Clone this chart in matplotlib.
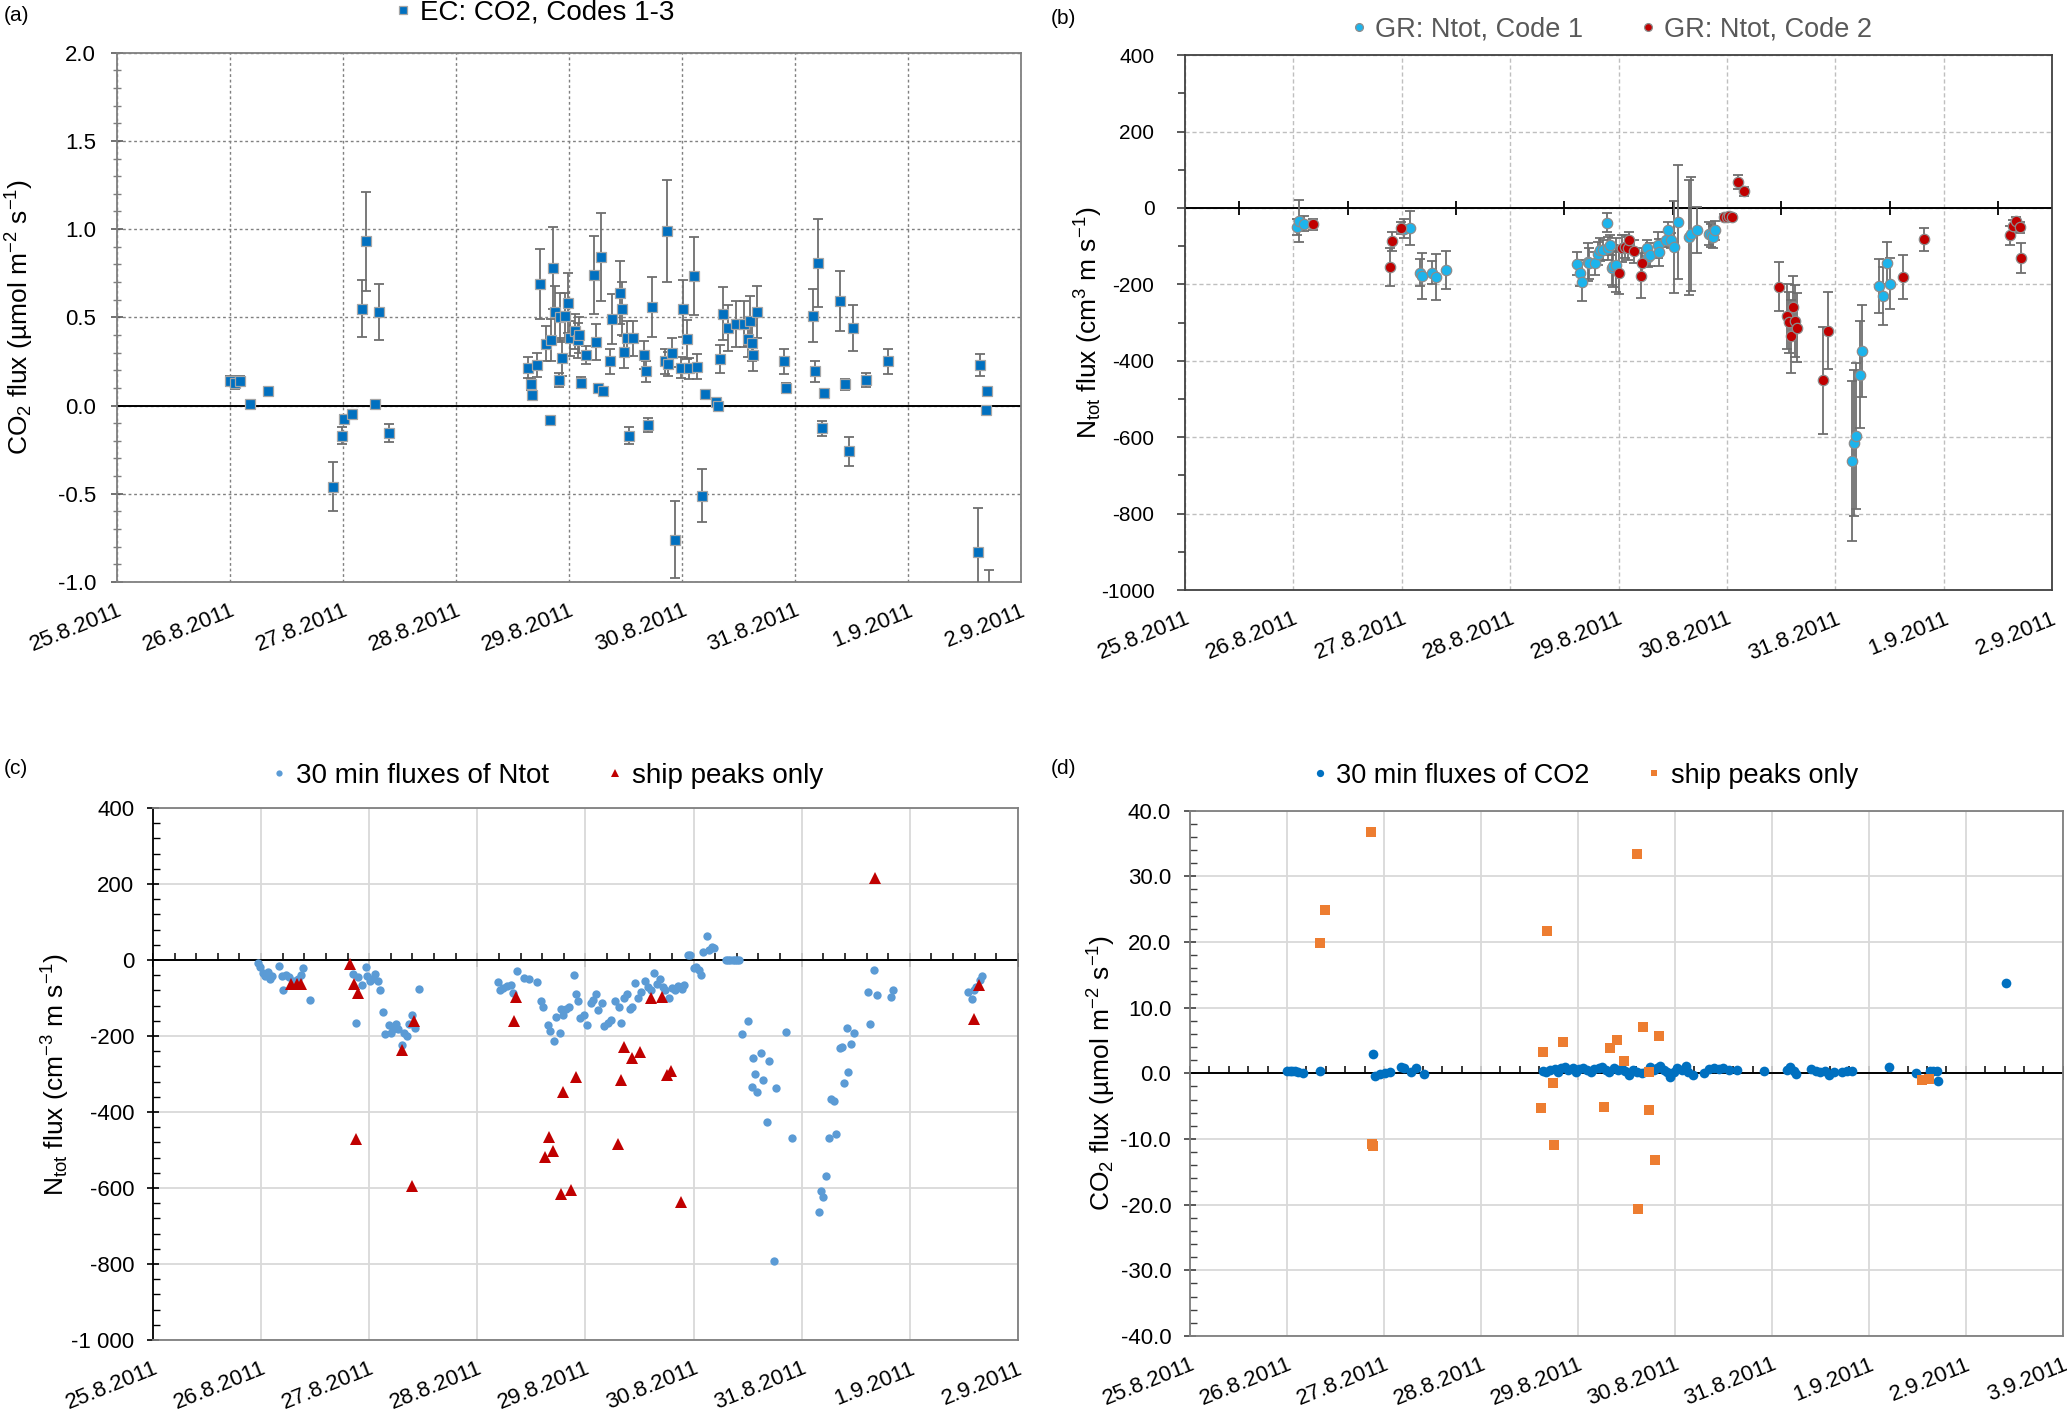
import numpy as np
import matplotlib.pyplot as plt
from matplotlib.ticker import MultipleLocator

plt.rcParams['font.family'] = ['Liberation Sans', 'DejaVu Sans']
plt.rcParams['mathtext.fontset'] = 'custom'
plt.rcParams['mathtext.rm'] = 'Liberation Sans'
plt.rcParams['mathtext.it'] = 'Liberation Sans:italic'
plt.rcParams['mathtext.default'] = 'regular'

# x values: days since 25.8.2011 00:00
date_labels = ['25.8.2011', '26.8.2011', '27.8.2011', '28.8.2011', '29.8.2011',
               '30.8.2011', '31.8.2011', '1.9.2011', '2.9.2011', '3.9.2011']

# (a) EC CO2 flux, codes 1-3
a_day = [1.00, 1.04, 1.09, 1.18, 1.34, 1.91, 1.99, 2.01, 2.08, 2.17, 2.20, 2.28, 2.32, 2.41,
         3.64, 3.66, 3.67, 3.72, 3.74, 3.80, 3.83, 3.84, 3.86, 3.88, 3.91, 3.92, 3.94, 3.96,
         3.99, 4.01, 4.05, 4.08, 4.09, 4.11, 4.15, 4.22, 4.24, 4.26, 4.28, 4.30, 4.36, 4.38,
         4.45, 4.47, 4.49, 4.51, 4.53, 4.57, 4.66, 4.68, 4.70, 4.73, 4.85, 4.87, 4.88, 4.91,
         4.94, 4.99, 5.01, 5.04, 5.06, 5.11, 5.13, 5.18, 5.20, 5.30, 5.32, 5.34, 5.36, 5.41,
         5.48, 5.55, 5.58, 5.60, 5.62, 5.63, 5.66, 5.90, 5.92, 6.16, 6.18, 6.20, 6.24, 6.26,
         6.40, 6.44, 6.48, 6.51, 6.63, 6.82, 7.62, 7.64, 7.69, 7.70, 7.72]
a_flux = [0.14, 0.125, 0.14, 0.007, 0.08, -0.46, -0.17, -0.075, -0.05, 0.55, 0.93, 0.007, 0.53, -0.155,
          0.215, 0.12, 0.058, 0.23, 0.69, 0.35, -0.08, 0.37, 0.78, 0.53, 0.145, 0.50, 0.27, 0.51,
          0.58, 0.38, 0.42, 0.37, 0.40, 0.13, 0.285, 0.74, 0.36, 0.10, 0.84, 0.085, 0.25, 0.49,
          0.64, 0.55, 0.305, 0.38, -0.17, 0.38, 0.285, 0.195, -0.11, 0.56, 0.25, 0.99, 0.235, 0.30,
          -0.76, 0.215, 0.55, 0.375, 0.21, 0.735, 0.22, -0.51, 0.065, 0.02, 0.0, 0.265, 0.52, 0.44,
          0.46, 0.46, 0.375, 0.48, 0.355, 0.285, 0.53, 0.25, 0.10, 0.51, 0.195, 0.81, -0.13, 0.07,
          0.595, 0.12, -0.26, 0.44, 0.145, 0.25, -0.83, 0.23, -0.025, 0.08, -1.10]
a_err = [0.03, 0.03, 0.03, 0.01, 0.02, 0.14, 0.05, 0.02, 0.02, 0.16, 0.28, 0.01, 0.16, 0.05,
         0.06, 0.03, 0.015, 0.07, 0.20, 0.10, 0.01, 0.12, 0.23, 0.15, 0.04, 0.14, 0.10, 0.13,
         0.17, 0.10, 0.10, 0.10, 0.10, 0.03, 0.05, 0.22, 0.10, 0.02, 0.25, 0.02, 0.07, 0.14,
         0.18, 0.15, 0.09, 0.10, 0.05, 0.10, 0.08, 0.06, 0.04, 0.17, 0.07, 0.29, 0.07, 0.08,
         0.22, 0.06, 0.16, 0.11, 0.06, 0.22, 0.07, 0.15, 0.01, 0.01, 0.01, 0.08, 0.15, 0.13,
         0.13, 0.13, 0.10, 0.14, 0.10, 0.09, 0.15, 0.07, 0.03, 0.15, 0.06, 0.25, 0.04, 0.01,
         0.17, 0.03, 0.08, 0.13, 0.04, 0.07, 0.25, 0.06, 0.01, 0.02, 0.17]

# (b) gradient Ntot flux, code 1 and code 2
b1_day = [1.03, 1.05, 1.10, 2.02, 2.08, 2.17, 2.19, 2.28, 2.32, 2.41,
          3.62, 3.64, 3.66, 3.72, 3.73, 3.78, 3.81, 3.83, 3.86, 3.89, 3.90, 3.92, 3.94, 3.95, 3.98,
          4.26, 4.27, 4.29, 4.36, 4.37, 4.44, 4.46, 4.48, 4.51, 4.55, 4.65, 4.67, 4.72,
          4.83, 4.85, 4.87, 4.89, 6.15, 6.17, 6.19, 6.23, 6.25, 6.40, 6.44, 6.48, 6.50]
b1_flux = [-50, -34, -41, -55, -52, -169, -178, -169, -181, -163,
           -146, -170, -194, -142, -145, -145, -120, -110, -110, -39, -105, -97, -157, -152, -149,
           -105, -129, -123, -97, -116, -83, -57, -85, -103, -37, -77, -68, -57,
           -67, -72, -76, -59, -662, -615, -597, -437, -375, -204, -230, -144, -198]
b1_err = [20, 55, 20, 25, 45, 35, 60, 30, 60, 50,
          30, 35, 50, 50, 40, 30, 30, 30, 25, 25, 30, 25, 45, 55, 70,
          20, 25, 30, 35, 35, 20, 20, 20, 120, 150, 150, 150, 60,
          30, 30, 28, 25, 210, 190, 190, 140, 120, 70, 76, 55, 66]
b2_day = [1.18, 1.89, 1.91, 1.99, 4.00, 4.03, 4.06, 4.09, 4.10, 4.14, 4.21, 4.22,
          4.97, 5.00, 5.02, 5.05, 5.10, 5.16, 5.48, 5.55, 5.57, 5.59, 5.61, 5.63, 5.65,
          5.89, 5.93, 6.62, 6.82, 7.61, 7.64, 7.67, 7.70, 7.71]
b2_flux = [-43, -154, -87, -53, -171, -106, -102, -106, -84, -113, -177, -144,
           -24, -23, -20, -24, 68, 43, -206, -283, -299, -336, -258, -296, -313,
           -451, -321, -181, -82, -72, -47, -35, -51, -131]
b2_err = [15, 50, 25, 15, 55, 35, 30, 30, 20, 30, 60, 40,
          8, 8, 8, 8, 18, 12, 65, 85, 80, 95, 80, 95, 90,
          140, 100, 58, 30, 25, 15, 12, 15, 40]

# (c) 30 min Ntot fluxes and ship peaks
c_day = [0.97, 0.99, 1.02, 1.04, 1.06, 1.08, 1.10, 1.17, 1.19, 1.20, 1.23, 1.26, 1.30, 1.34, 1.37,
         1.39, 1.45, 1.85, 1.88, 1.90, 1.93, 1.97, 1.98, 2.01, 2.03, 2.05, 2.08, 2.10, 2.13, 2.15,
         2.18, 2.20, 2.22, 2.25, 2.27, 2.30, 2.32, 2.35, 2.37, 2.40, 2.42, 2.46,
         3.19, 3.21, 3.24, 3.27, 3.31, 3.33, 3.37, 3.43, 3.48, 3.55, 3.59, 3.61, 3.65, 3.67, 3.71,
         3.73, 3.76, 3.77, 3.79, 3.82, 3.85, 3.89, 3.91, 3.93, 3.95, 3.99, 4.01, 4.05, 4.07, 4.10,
         4.12, 4.15, 4.17, 4.21, 4.24, 4.27, 4.31, 4.33, 4.36, 4.38, 4.41, 4.43, 4.46, 4.49, 4.51,
         4.55, 4.58, 4.61, 4.63, 4.66, 4.69, 4.72, 4.74, 4.77, 4.80, 4.83, 4.86, 4.89, 4.91,
         4.95, 4.97, 5.00, 5.02, 5.05, 5.07, 5.09, 5.12, 5.14, 5.17, 5.19,
         5.30, 5.32, 5.34, 5.36, 5.38, 5.40, 5.42,
         5.45, 5.50, 5.54, 5.55, 5.57, 5.59, 5.62, 5.64, 5.68, 5.70, 5.74, 5.76, 5.85, 5.91,
         6.16, 6.18, 6.20, 6.22, 6.25, 6.27, 6.30, 6.32, 6.35, 6.37, 6.39, 6.42, 6.43, 6.46, 6.48,
         6.61, 6.63, 6.67, 6.70, 6.83, 6.84, 7.54, 7.57, 7.59, 7.61, 7.65, 7.67]
c_flux = [-8, -18, -35, -43, -32, -51, -42, -15, -42, -78, -39, -44, -56, -50, -39,
          -22, -105, -37, -165, -44, -67, -19, -43, -56, -49, -36, -56, -78, -137, -196,
          -171, -191, -182, -169, -182, -225, -191, -200, -169, -146, -178, -76,
          -58, -78, -73, -69, -65, -87, -29, -48, -50, -59, -109, -124, -171, -188, -214,
          -150, -191, -128, -146, -129, -124, -40, -90, -107, -154, -146, -171, -112, -105, -90,
          -131, -114, -174, -167, -157, -107, -124, -167, -99, -90, -129, -124, -61, -101, -85,
          -56, -72, -80, -35, -62, -50, -72, -78, -101, -73, -78, -69, -76, -67,
          12, 12, -22, -19, -27, -39, 22, 62, 26, 35, 32,
          0, 0, 0, 0, 0, 0, 0,
          -195, -161, -334, -259, -299, -348, -246, -315, -427, -265, -792, -337, -189, -468,
          -664, -607, -624, -568, -469, -365, -370, -458, -232, -228, -324, -178, -295, -221, -191,
          -85, -169, -27, -92, -97, -78, -85, -104, -78, -70, -52, -41]
c_peak_day = [1.28, 1.33, 1.37, 1.82, 1.86, 1.90, 1.88, 2.30, 2.40, 2.41, 3.36, 3.34,
              3.66, 3.63, 3.70, 3.77, 3.87, 3.79, 3.91, 4.30, 4.33, 4.36, 4.43, 4.50,
              4.61, 4.71, 4.75, 4.79, 4.88, 6.68, 7.59, 7.64]
c_peak_flux = [-62, -62, -62, -11, -62, -86, -471, -236, -594, -160, -97, -160,
               -466, -518, -503, -616, -605, -348, -308, -484, -317, -228, -259, -242,
               -99, -97, -302, -293, -637, 216, -156, -65]

# (d) 30 min CO2 fluxes and ship peaks
d_day = [1.00, 1.03, 1.05, 1.08, 1.11, 1.17, 1.34, 1.89, 1.91, 1.96, 2.01, 2.06, 2.18, 2.21,
         2.28, 2.33, 2.41, 3.64, 3.67, 3.71, 3.76, 3.79, 3.83, 3.87, 3.90, 3.95, 3.98, 4.01,
         4.05, 4.09, 4.13, 4.17, 4.22, 4.25, 4.29, 4.32, 4.37, 4.41, 4.45, 4.49, 4.53, 4.57,
         4.61, 4.66, 4.71, 4.74, 4.78, 4.82, 4.85, 4.89, 4.92, 4.95, 4.99, 5.02, 5.07, 5.11,
         5.14, 5.19, 5.30, 5.35, 5.40, 5.45, 5.50, 5.56, 5.64, 5.92, 6.16, 6.19, 6.23, 6.25,
         6.40, 6.45, 6.50, 6.55, 6.59, 6.64, 6.72, 6.77, 6.83, 7.21, 7.49, 7.63, 7.66, 7.70,
         7.71, 8.41]
d_flux = [0.35, 0.35, 0.35, 0.35, 0.25, 0.1, 0.35, 3.0, -0.36, -0.1, 0.1, 0.15, 1.0, 0.76,
          0.25, 0.76, -0.05, 0.36, 0.15, 0.51, 0.61, 0.25, 0.76, 1.02, 0.51, 0.76, 0.25, 0.61,
          0.76, 0.51, 0.25, 0.61, 0.76, 1.02, 0.51, 0.25, 0.76, 0.51, 0.61, 0.41, -0.25, 0.51,
          0.25, 0.1, 0.41, 1.02, 0.51, 0.76, 1.12, 0.51, 0.25, -0.61, 0.25, 0.76, 0.51, 1.12,
          0.25, -0.25, 0.1, 0.61, 0.76, 0.61, 0.76, 0.5, 0.5, 0.3, 0.5, 0.9, 0.4, -0.1,
          0.7, 0.4, 0.15, 0.4, -0.25, 0.15, 0.15, 0.3, 0.4, 1.0, 0.05, 0.4, 0.4, 0.3,
          -1.25, 13.8]
d_peak_day = [1.34, 1.39, 1.87, 1.88, 1.89, 3.62, 3.64, 3.68, 3.74, 3.75, 3.85, 4.27, 4.33,
              4.40, 4.47, 4.61, 4.62, 4.67, 4.73, 4.73, 4.79, 4.84, 7.55, 7.62]
d_peak_flux = [19.9, 24.9, 36.8, -10.7, -11.0, -5.3, 3.3, 21.7, -1.5, -10.9, 4.7, -5.1, 3.8,
               5.0, 1.8, 33.4, -20.6, 7.1, -5.6, 0.2, -13.2, 5.7, -1.1, -0.85]

fig = plt.figure(figsize=(20.67, 14.16), dpi=100)


def setup_axes(rect, ndays, ylim, ystep, yminor, ylabels, ylabel, label_x, tick_size=16):
    ax = fig.add_axes(rect)
    ax.set_xlim(0, ndays)
    ax.set_ylim(*ylim)
    ax.set_xticks(range(ndays + 1))
    ax.set_xticklabels(date_labels[:ndays + 1], rotation=22, ha='right', va='top',
                       rotation_mode='anchor', fontsize=16)
    ax.tick_params(axis='x', length=0, pad=13)
    yt = np.arange(ylim[0], ylim[1] + ystep / 2, ystep)
    ax.set_yticks(yt)
    ax.set_yticklabels(ylabels, fontsize=tick_size)
    ax.yaxis.set_minor_locator(MultipleLocator(yminor))
    ax.set_ylabel(ylabel, fontsize=19)
    ax.yaxis.set_label_coords(label_x, 0.5)
    ax.set_axisbelow(True)
    for s in ax.spines.values():
        s.set_color('#7F7F7F')
        s.set_linewidth(1.3)
    return ax


def zero_line(ax, major, minor):
    # black line at y = 0 carrying its own x ticks
    ax.axhline(0, color='black', linewidth=1.4, zorder=2)
    ymin, ymax = ax.get_ylim()
    pos = (0 - ymin) / (ymax - ymin)
    zax = ax.secondary_xaxis(pos)
    for s in zax.spines.values():
        s.set_visible(False)
    zax.set_xticks(major)
    zax.set_xticks(minor, minor=True)
    zax.tick_params(which='major', direction='inout', length=10, width=1.3, color='black',
                    labeltop=False, labelbottom=False)
    zax.tick_params(which='minor', direction='out', length=5, width=1.1, color='black',
                    labeltop=False, labelbottom=False)
    return zax


# ---- (a)
ax_a = setup_axes([0.0566, 0.589, 0.4374, 0.3738], 8, (-1.0, 2.0), 0.5, 0.1,
                  ['-1.0', '-0.5', '0.0', '0.5', '1.0', '1.5', '2.0'],
                  'CO$_2$ flux (µmol m$^{-2}$ s$^{-1}$)', -0.09)
ax_a.grid(True, color='#808080', linestyle=(0, (2, 2)), linewidth=1.0)
ax_a.tick_params(axis='y', which='major', direction='inout', length=8, width=1.2,
                 color='#595959', pad=11)
ax_a.tick_params(axis='y', which='minor', direction='inout', length=6, width=1.0, color='#7F7F7F')
ax_a.axhline(0, color='black', linewidth=1.4, zorder=2)
ax_a.errorbar(a_day, a_flux, yerr=a_err, fmt='none', ecolor='#6E6E6E', elinewidth=1.3,
              capsize=3.5, capthick=1.3, zorder=3)
ax_a.plot(a_day, a_flux, 's', ms=6.5, mfc='#0070C0', mec='#A6A6A6', mew=0.9, zorder=4,
          label='EC: CO2, Codes 1-3')
ax_a.legend(loc='center', bbox_to_anchor=(0.258, 0.991), bbox_transform=fig.transFigure,
            frameon=False, fontsize=20, handletextpad=0.2, markerscale=0.8, handlelength=0.8)

# ---- (b)
ax_b = setup_axes([0.5733, 0.5833, 0.4195, 0.3778], 8, (-1000, 400), 200, 100,
                  ['-1000', '-800', '-600', '-400', '-200', '0', '200', '400'],
                  'N$_{tot}$ flux (cm$^{3}$ m s$^{-1}$)', -0.092, tick_size=15)
ax_b.grid(True, color='#BFBFBF', linestyle=(0, (3, 2)), linewidth=1.0)
ax_b.tick_params(axis='y', which='both', direction='out', length=6, width=1.2,
                 color='#404040', pad=16)
ax_b.tick_params(axis='y', which='minor', length=5)
for s in ax_b.spines.values():
    s.set_color('#404040')
zero_line(ax_b, np.arange(0.5, 8, 1.0), [])
ax_b.errorbar(b1_day, b1_flux, yerr=b1_err, fmt='none', ecolor='#6E6E6E', elinewidth=1.3,
              capsize=3.5, capthick=1.3, zorder=3)
ax_b.errorbar(b2_day, b2_flux, yerr=b2_err, fmt='none', ecolor='#6E6E6E', elinewidth=1.3,
              capsize=3.5, capthick=1.3, zorder=3)
ax_b.plot(b1_day, b1_flux, 'o', ms=7.5, mfc='#1CB4EC', mec='#8C8C8C', mew=0.9, zorder=4,
          label='GR: Ntot, Code 1')
ax_b.plot(b2_day, b2_flux, 'o', ms=7.5, mfc='#C00000', mec='#8C8C8C', mew=0.9, zorder=4,
          label='GR: Ntot, Code 2')
leg_b = ax_b.legend(loc='center', bbox_to_anchor=(0.779, 0.9795), bbox_transform=fig.transFigure,
                    frameon=False, fontsize=19.5, ncol=2, handletextpad=0.2, markerscale=0.75,
                    handlelength=0.8, columnspacing=2.0)
for t in leg_b.get_texts():
    t.set_color('#595959')

# ---- (c)
ax_c = setup_axes([0.0740, 0.0537, 0.4185, 0.3757], 8, (-1000, 400), 200, 40,
                  ['-1 000', '-800', '-600', '-400', '-200', '0', '200', '400'],
                  'N$_{tot}$ flux (cm$^{-3}$ m s$^{-1}$)', -0.094)
ax_c.grid(True, color='#D9D9D9', linestyle='-', linewidth=1.3)
ax_c.tick_params(axis='y', which='major', direction='inout', length=9, width=1.2,
                 color='black', pad=9)
ax_c.tick_params(axis='y', which='minor', direction='in', length=5, width=1.0, color='black')
ax_c.spines['left'].set_color('black')
zero_line(ax_c, range(0, 9), np.arange(0.2, 8, 0.2))
ax_c.plot(c_day, c_flux, 'o', ms=6, color='#5B9BD5', mew=0, zorder=3,
          label='30 min fluxes of Ntot')
ax_c.plot(c_peak_day, c_peak_flux, '^', ms=8.5, color='#C00000', mew=0, zorder=4,
          label='ship peaks only')
ax_c.legend(loc='center', bbox_to_anchor=(0.264, 0.452), bbox_transform=fig.transFigure,
            frameon=False, fontsize=20, ncol=2, handletextpad=0.2, markerscale=0.75,
            handlelength=0.8, columnspacing=2.0)

# ---- (d)
ax_d = setup_axes([0.5757, 0.0565, 0.4223, 0.3711], 9, (-40, 40), 10, 2,
                  ['-40.0', '-30.0', '-20.0', '-10.0', '0.0', '10.0', '20.0', '30.0', '40.0'],
                  'CO$_2$ flux (µmol m$^{-2}$ s$^{-1}$)', -0.082)
ax_d.grid(True, color='#D9D9D9', linestyle='-', linewidth=1.3)
ax_d.tick_params(axis='y', which='major', direction='inout', length=9, width=1.2,
                 color='#404040', pad=9)
ax_d.tick_params(axis='y', which='minor', direction='in', length=5, width=1.0, color='#404040')
zero_line(ax_d, range(0, 10), np.arange(0.2, 9, 0.2))
ax_d.plot(d_day, d_flux, 'o', ms=7, color='#0070C0', mew=0, zorder=3,
          label='30 min fluxes of CO2')
ax_d.plot(d_peak_day, d_peak_flux, 's', ms=6.5, color='#ED7D31', mew=0, zorder=4,
          label='ship peaks only')
ax_d.legend(loc='center', bbox_to_anchor=(0.766, 0.452), bbox_transform=fig.transFigure,
            frameon=False, fontsize=19.5, ncol=2, handletextpad=0.2, markerscale=0.75,
            handlelength=0.8, columnspacing=2.0)

# panel letters
fig.text(0.002, 0.989, '(a)', fontsize=15, va='center')
fig.text(0.5085, 0.987, '(b)', fontsize=15, va='center')
fig.text(0.002, 0.457, '(c)', fontsize=15, va='center')
fig.text(0.5085, 0.457, '(d)', fontsize=15, va='center')

fig.savefig('out.png', dpi=100)
